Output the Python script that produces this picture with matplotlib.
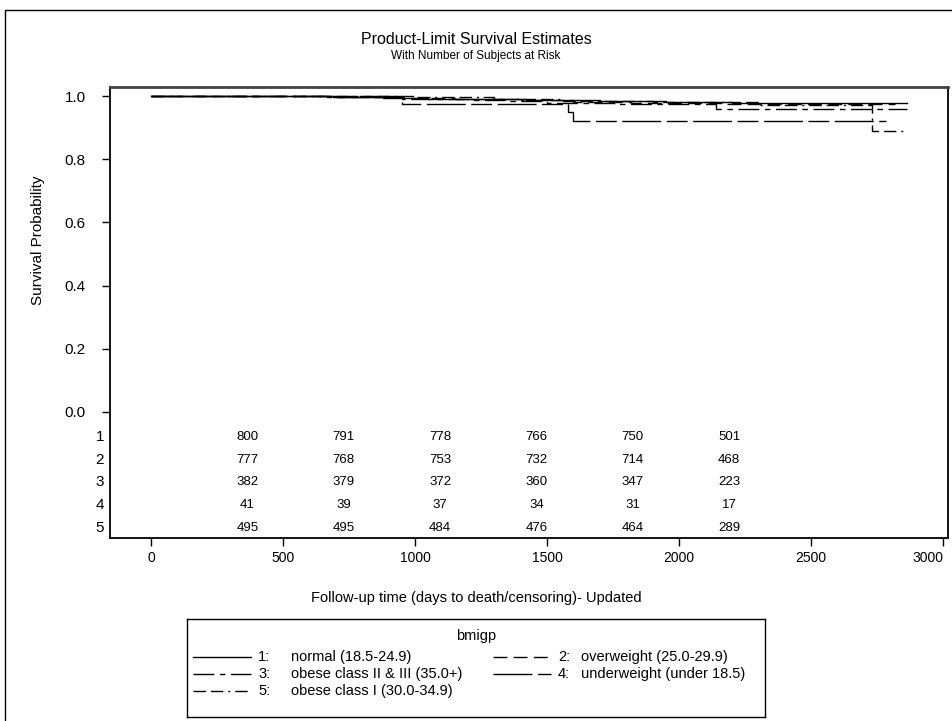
import matplotlib
matplotlib.use("Agg")
import matplotlib.pyplot as plt
from matplotlib.patches import Rectangle

plt.rcParams['font.family'] = ['Liberation Sans', 'DejaVu Sans']

# --- data ------------------------------------------------------------------
groups = ['1', '2', '3', '4', '5']
group_labels = ['normal (18.5-24.9)', 'overweight (25.0-29.9)',
                'obese class II & III (35.0+)', 'underweight (under 18.5)',
                'obese class I (30.0-34.9)']

# Kaplan-Meier step curves (days, survival)
t1 = [0, 690, 880, 1050, 1250, 1420, 1700, 1950, 2200, 2865]
s1 = [1.0, 0.997, 0.995, 0.992, 0.989, 0.986, 0.984, 0.981, 0.978, 0.978]
t2 = [0, 700, 960, 1150, 1400, 1600, 1820, 2180, 2820]
s2 = [1.0, 0.997, 0.993, 0.990, 0.986, 0.982, 0.979, 0.975, 0.975]
t3 = [0, 650, 950, 1200, 1350, 1500, 1760, 2140, 2865]
s3 = [1.0, 0.997, 0.992, 0.987, 0.984, 0.979, 0.976, 0.959, 0.959]
t4 = [0, 950, 1580, 1600, 2785]
s4 = [1.0, 0.976, 0.949, 0.920, 0.920]
t5 = [0, 1000, 1300, 1550, 1900, 2300, 2730, 2865]
s5 = [1.0, 0.996, 0.990, 0.985, 0.980, 0.972, 0.889, 0.889]

# numbers at risk
risk_times = [365, 730, 1095, 1460, 1825, 2190]
risk1 = [800, 791, 778, 766, 750, 501]
risk2 = [777, 768, 753, 732, 714, 468]
risk3 = [382, 379, 372, 360, 347, 223]
risk4 = [41, 39, 37, 34, 31, 17]
risk5 = [495, 495, 484, 476, 464, 289]

curves = [(t1, s1), (t2, s2), (t3, s3), (t4, s4), (t5, s5)]
risks = [risk1, risk2, risk3, risk4, risk5]
styles = ['-', (0, (10, 4.5)), (0, (15, 4, 4, 4)),
          (0, (28, 4, 15, 4)), (0, (9, 3.5, 9, 3.5, 1.5, 3.5))]
risk_rows = [-0.079, -0.152, -0.222, -0.294, -0.367]

W, H = 952, 721
fig = plt.figure(figsize=(W / 100, H / 100), dpi=100)
fig.patches.append(Rectangle((5 / W, -0.1), 1.2, 1.1 - 10 / H, transform=fig.transFigure,
                             fill=False, ec='black', lw=1.0))

ax = fig.add_axes([110 / W, 1 - 538 / H, (948 - 110) / W, (538 - 87) / H])
for (t, s), ls in zip(curves, styles):
    ax.plot(t, s, color='black', lw=1.0, ls=ls, drawstyle='steps-post')

for row, y in zip(risks, risk_rows):
    for tt, n in zip(risk_times, row):
        ax.text(tt, y, str(n), ha='center', va='center', fontsize=9.5)
for g, y in zip(groups, risk_rows):
    ax.text(-0.007, y, g, transform=ax.get_yaxis_transform(), ha='right',
            va='center', fontsize=11)

xt = [0, 500, 1000, 1500, 2000, 2500, 3000]
yt = [0.0, 0.2, 0.4, 0.6, 0.8, 1.0]
ax.set_xlim(-155, 3019)
ax.set_ylim(-0.399, 1.0285)
ax.set_xticks(xt)
ax.set_xticklabels([str(v) for v in xt], fontsize=10)
ax.set_yticks(yt)
ax.set_yticklabels(['%.1f' % v for v in yt], fontsize=11)
ax.tick_params(direction='out', length=5.5, width=1)
ax.tick_params(axis='y', pad=12)
ax.tick_params(axis='x', pad=4)
ax.get_xticklabels()[-1].set_horizontalalignment('right')
for sp in ax.spines.values():
    sp.set_linewidth(1.3)
ax.spines['top'].set_linewidth(2.0)
ax.spines['top'].set_color('#444444')

fig.text(476 / W, 1 - 39 / H, 'Product-Limit Survival Estimates', ha='center', va='center', fontsize=11.5)
fig.text(476 / W, 1 - 56 / H, 'With Number of Subjects at Risk', ha='center', va='center', fontsize=8.5)
fig.text(476 / W, 1 - 598 / H, 'Follow-up time (days to death/censoring)- Updated',
         ha='center', va='center', fontsize=10.5)
fig.text(38 / W, 1 - 240 / H, 'Survival Probability', ha='center', va='center',
         rotation=90, fontsize=11)

# legend box drawn in pixel-like coordinates
lax = fig.add_axes([187 / W, 1 - 717 / H, (765 - 187) / W, (717 - 619) / H])
lax.set_xlim(187, 765)
lax.set_ylim(717, 619)
lax.set_xticks([])
lax.set_yticks([])
for sp in lax.spines.values():
    sp.set_linewidth(1.0)
lax.text(476, 636, 'bmigp', ha='center', va='center', fontsize=10.5)
slots = [(193, 657), (493, 657), (193, 674), (493, 674), (193, 691)]
for (x0, y0), g, lab, ls in zip(slots, groups, group_labels, styles):
    lax.plot([x0, x0 + 58], [y0, y0], color='black', lw=1.0, ls=ls)
    lax.text(x0 + 65, y0, g + ':', ha='left', va='center', fontsize=10.5)
    lax.text(x0 + 98 if x0 < 300 else x0 + 88, y0, lab, ha='left', va='center', fontsize=10.5)

fig.savefig('out.png', dpi=100)
